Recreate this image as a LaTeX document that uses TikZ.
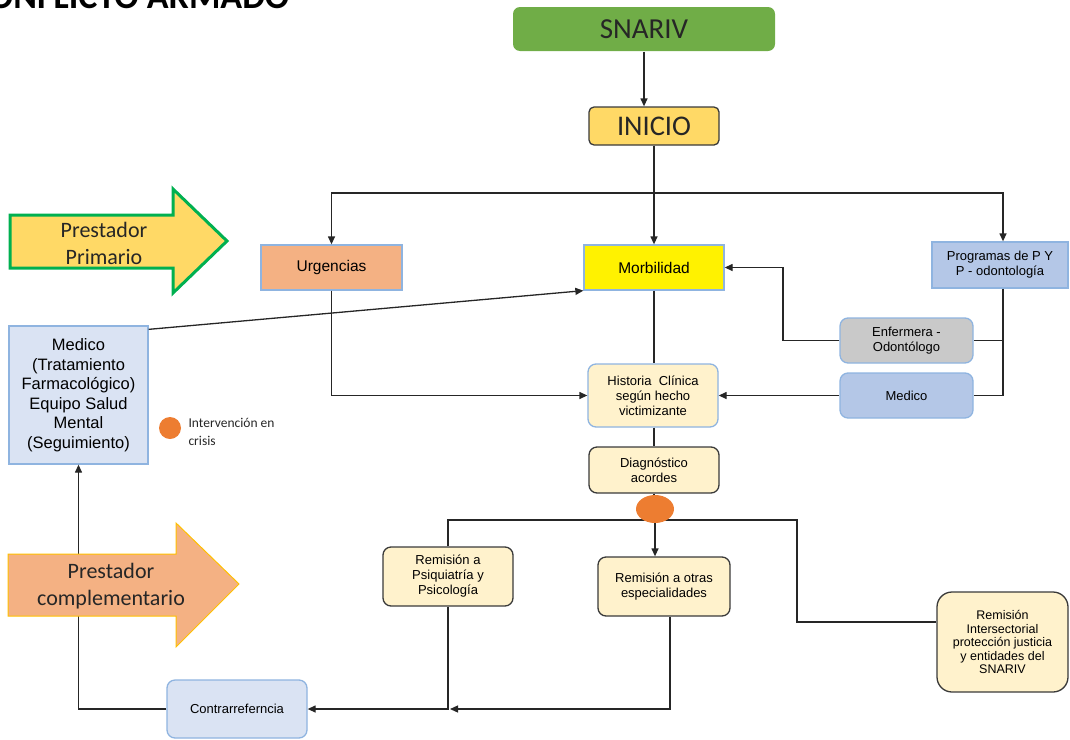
\documentclass[tikz,border=0pt]{standalone}
\usepackage{fontspec}
\setmainfont{Liberation Sans}
\newfontfamily\calib{Carlito}
\usetikzlibrary{arrows.meta,shapes.geometric}
\definecolor{snarivgreen}{HTML}{70AD47}
\definecolor{gold}{HTML}{FFD966}
\definecolor{salmon}{HTML}{F4B183}
\definecolor{paleblue}{HTML}{B4C7E7}
\definecolor{lightblue}{HTML}{DAE3F3}
\definecolor{cream}{HTML}{FFF2CC}
\definecolor{greybox}{HTML}{C9C9C9}
\definecolor{bluebd}{HTML}{8FB4E0}
\definecolor{darkbd}{HTML}{3A3A3A}
\definecolor{orangedot}{HTML}{ED7D31}
\definecolor{arrgreen}{HTML}{00B050}
\definecolor{arrgold}{HTML}{FFC000}
\begin{document}
\begin{tikzpicture}[x=1pt,y=-1pt,
  box/.style={draw=bluebd, line width=1.3pt, align=center, inner sep=2pt,
    font=\fontsize{13}{15}\selectfont},
  rbox/.style={box, rounded corners=8pt},
  dbox/.style={rbox, draw=darkbd},
  ln/.style={line width=1.3pt, draw=black!85},
  arr/.style={ln, -{Triangle[length=8pt,width=7pt]}},
  bigarrow/.style={line join=miter},
  bigtext/.style={font=\calib\fontsize{22}{27}\selectfont, align=center, text=black!85}
]
\useasboundingbox (0,0) rectangle (1070,739);
\clip (0,0) rectangle (1070,739);

% title (cut at top edge, as in the reference)
\node[anchor=base west, inner sep=0pt, font=\calib\bfseries\fontsize{36}{40}\selectfont] (title) at (-30,8) {CONFLICTO ARMADO};

% nodes
\node[rbox, draw=none, fill=snarivgreen, rounded corners=7pt, minimum width=262pt, minimum height=44pt,
  font=\calib\fontsize{29}{32}\selectfont, text=black!85] (snariv) at (644,29) {SNARIV};
\node[rbox, draw=darkbd, fill=gold, rounded corners=5pt, minimum width=130pt, minimum height=38pt,
  font=\calib\fontsize{28.5}{32}\selectfont, text=black!85] (inicio) at (654,126) {INICIO};
\node[box, fill=salmon, minimum width=141pt, minimum height=45pt, font=\fontsize{15.5}{18}\selectfont] (urg) at (331.5,267.5) {Urgencias};
\node[box, fill=yellow, minimum width=140pt, minimum height=45pt, font=\fontsize{15.5}{18}\selectfont] (morb) at (654,267.5) {Morbilidad};
\node[box, fill=paleblue, minimum width=136pt, minimum height=46pt] (prog) at (1000,265) {Programas de P Y\\P - odontología};
\node[rbox, fill=greybox, minimum width=133pt, minimum height=45pt] (enf) at (906.5,340.5) {Enfermera -\\Odontólogo};
\node[rbox, fill=paleblue, minimum width=133pt, minimum height=45pt] (medr) at (906.5,395.5) {Medico};
\node[rbox, fill=cream, minimum width=130pt, minimum height=63pt] (hist) at (653,395.5) {Historia\ \ Clínica\\según hecho\\victimizante};
\node[dbox, fill=cream, minimum width=130pt, minimum height=46pt] (diag) at (654,470) {Diagnóstico\\acordes};
\node[dbox, fill=cream, minimum width=130pt, minimum height=59pt] (psiq) at (448,576.5) {Remisión a\\Psiquiatría y\\Psicología};
\node[dbox, fill=cream, minimum width=132pt, minimum height=59pt] (otras) at (664,586.5) {Remisión a otras\\especialidades};
\node[dbox, fill=cream, rounded corners=15pt, minimum width=131pt, minimum height=100pt,
  font=\fontsize{12.5}{13.5}\selectfont] (inter) at (1002.5,642) {Remisión\\Intersectorial\\protección justicia\\y entidades del\\SNARIV};
\node[rbox, fill=lightblue, minimum width=140pt, minimum height=58pt] (contra) at (237,709) {Contrarreferncia};
\node[box, fill=lightblue, minimum width=139pt, minimum height=138pt, font=\fontsize{16.5}{19.5}\selectfont] (medl) at (78.5,395) {Medico\\(Tratamiento\\Farmacológico)\\Equipo Salud\\Mental\\(Seguimiento)};

\node[circle, fill=orangedot, minimum size=22pt, inner sep=0pt] (dot) at (170,428) {};
\node[anchor=west, align=left, font=\calib\fontsize{13.5}{17.5}\selectfont, text=black!85] (crisis) at (185,432) {Intervención en\\crisis};

% connectors
\draw[arr] (snariv.south) -- (snariv.south |- inicio.north);
\coordinate (bus) at (655,193);
\draw[ln] (inicio.south) -- (inicio.south |- bus);
\draw[arr] (bus) -| (urg.north);
\draw[arr] (bus) -| ([xshift=3pt]prog.north);
\draw[arr] (inicio.south) -- (morb.north);
\draw[arr] (urg.south) |- (hist.west);
\draw[ln] (morb.south) -- (morb.south |- hist.north);
\coordinate (ej) at (783,340.5);
\draw[arr] (enf.west) -- (ej) |- (morb.east);
\draw[ln] ([xshift=3pt]prog.south) |- (medr.east);
\draw[ln] ([xshift=3pt]prog.south |- enf.east) -- (enf.east);
\draw[arr] (medr.west) -- (hist.east);
\draw[ln] (diag.north |- hist.south) -- (diag.north);
\coordinate (b2) at (797,520);
\draw[ln] (psiq.north) |- (b2) |- ([yshift=20pt]inter.west);
\draw[arr] (psiq.south) |- (contra.east);
\draw[arr] ([xshift=6pt]otras.south) |- ([xshift=2pt]psiq.south |- contra.east);
\draw[arr] (contra.west) -| (medl.south);
\draw[arr] ([yshift=-4pt]medl.north east) -- (morb.south west);

% orange junction
\node[ellipse, fill=orangedot, minimum width=38pt, minimum height=28pt, inner sep=0pt] (ell) at (655,509) {};
\draw[ln] (diag.south) -- (diag.south |- ell.north);
\draw[arr] (ell.south) -- (ell.south |- otras.north);

% big arrows
\draw[bigarrow, fill=gold, draw=arrgreen, line width=3pt]
  (10,215) -- (173,215) -- (173,189) -- (227,241) -- (173,293) -- (173,268) -- (10,268) -- cycle;
\node[bigtext] (prim) at (104,243) {Prestador\\Primario};
\draw[bigarrow, fill=salmon, draw=arrgold, line width=1pt]
  (8,554) -- (176,554) -- (176,523) -- (239,584) -- (176,647) -- (176,616) -- (8,616) -- cycle;
\node[bigtext] (compl) at (111,586) {Prestador\\complementario};
\end{tikzpicture}
\end{document}
